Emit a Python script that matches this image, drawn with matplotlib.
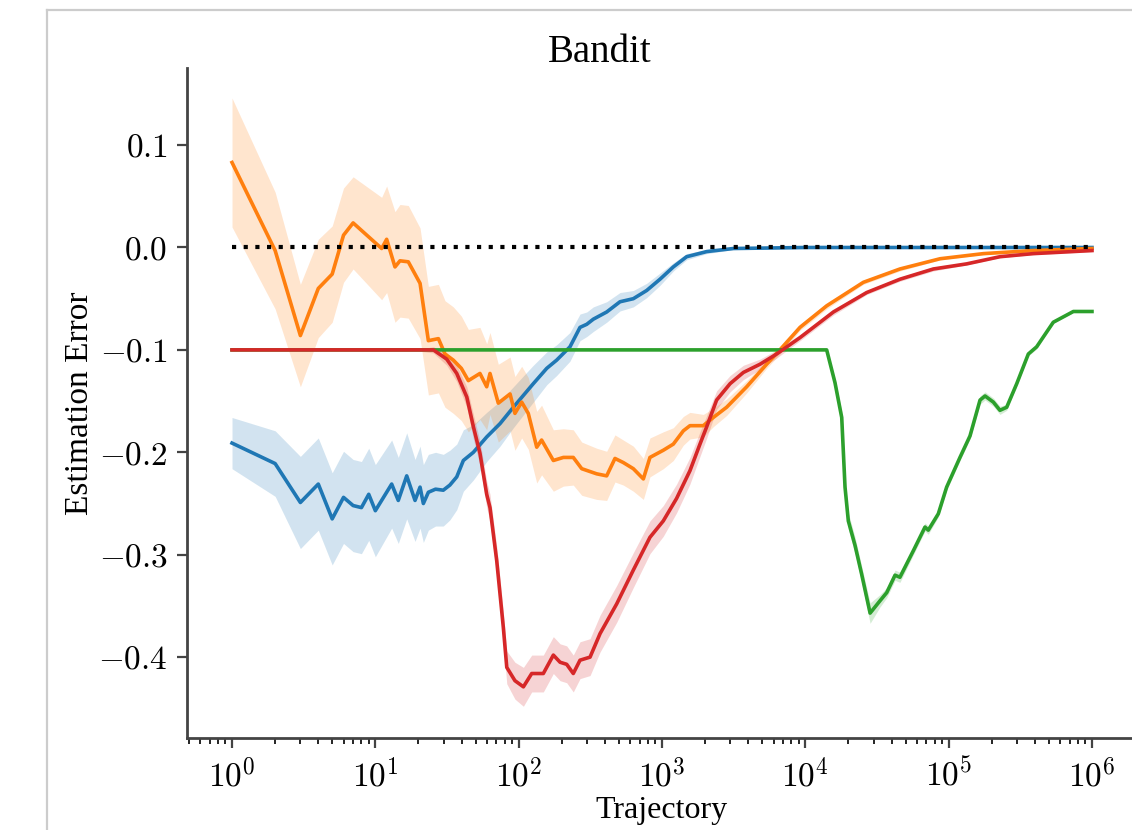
import numpy as np
import matplotlib
matplotlib.use("Agg")
import matplotlib.pyplot as plt
from matplotlib.ticker import FuncFormatter, FixedLocator, LogLocator
from matplotlib.lines import Line2D

plt.rcParams['mathtext.fontset'] = 'cm'
plt.rcParams['font.family'] = ['Liberation Serif', 'DejaVu Serif']

# log10(trajectory), mean estimation error, half width of the shaded band
blue_logx = [0.000, 0.301, 0.477, 0.602, 0.699, 0.778, 0.845, 0.903, 0.954, 1.000,
             1.114, 1.160, 1.219, 1.277, 1.312, 1.335, 1.370, 1.420, 1.474, 1.520,
             1.568, 1.614, 1.684, 1.777, 1.870, 1.963, 2.102, 2.196, 2.265, 2.358,
             2.428, 2.475, 2.521, 2.614, 2.707, 2.800, 2.893, 2.986, 3.079, 3.172,
             3.312, 3.498, 4.000, 5.000, 6.000]
blue_val = [-0.191, -0.211, -0.249, -0.231, -0.265, -0.244, -0.252, -0.254, -0.241, -0.257,
            -0.231, -0.247, -0.223, -0.247, -0.234, -0.250, -0.239, -0.236, -0.237, -0.232,
            -0.224, -0.208, -0.200, -0.185, -0.172, -0.156, -0.133, -0.118, -0.110, -0.097,
            -0.078, -0.075, -0.070, -0.063, -0.053, -0.050, -0.042, -0.031, -0.019, -0.009,
            -0.004, -0.001, 0.000, 0.000, 0.000]
blue_err = [0.025, 0.032, 0.045, 0.045, 0.045, 0.045, 0.045, 0.045, 0.045, 0.045,
            0.043, 0.042, 0.042, 0.040, 0.040, 0.038, 0.037, 0.036, 0.035, 0.034,
            0.032, 0.030, 0.027, 0.024, 0.022, 0.020, 0.018, 0.016, 0.015, 0.014,
            0.013, 0.012, 0.012, 0.010, 0.009, 0.008, 0.007, 0.006, 0.004, 0.003,
            0.002, 0.001, 0.001, 0.000, 0.000]

orange_logx = [0.000, 0.301, 0.477, 0.602, 0.699, 0.778, 0.845, 1.044, 1.079, 1.137,
               1.172, 1.230, 1.312, 1.370, 1.440, 1.486, 1.544, 1.600, 1.649, 1.730,
               1.777, 1.800, 1.858, 1.940, 1.974, 2.021, 2.067, 2.126, 2.160, 2.242,
               2.312, 2.381, 2.440, 2.544, 2.614, 2.672, 2.730, 2.800, 2.870, 2.916,
               3.009, 3.079, 3.149, 3.195, 3.288, 3.358, 3.451, 3.591, 3.730, 3.823,
               3.963, 4.149, 4.405, 4.660, 4.940, 5.242, 5.590, 6.000]
orange_val = [0.083, -0.003, -0.086, -0.040, -0.026, 0.012, 0.024, -0.001, 0.008, -0.019,
              -0.013, -0.014, -0.035, -0.091, -0.089, -0.104, -0.110, -0.118, -0.130, -0.123,
              -0.136, -0.123, -0.152, -0.143, -0.162, -0.151, -0.162, -0.195, -0.188, -0.208,
              -0.205, -0.205, -0.216, -0.221, -0.223, -0.206, -0.210, -0.216, -0.226, -0.205,
              -0.198, -0.192, -0.179, -0.174, -0.174, -0.166, -0.156, -0.136, -0.114, -0.100,
              -0.078, -0.057, -0.034, -0.021, -0.011, -0.006, -0.003, -0.001]
orange_err = [0.063, 0.057, 0.050, 0.048, 0.047, 0.046, 0.045, 0.050, 0.052, 0.054,
              0.055, 0.055, 0.054, 0.053, 0.053, 0.052, 0.052, 0.051, 0.050, 0.045,
              0.042, 0.040, 0.038, 0.036, 0.036, 0.035, 0.035, 0.035, 0.034, 0.030,
              0.028, 0.027, 0.026, 0.025, 0.024, 0.023, 0.022, 0.022, 0.020, 0.019,
              0.018, 0.016, 0.014, 0.013, 0.011, 0.009, 0.008, 0.006, 0.004, 0.004,
              0.003, 0.003, 0.002, 0.002, 0.001, 0.001, 0.001, 0.001]

green_logx = [0.000, 4.149, 4.207, 4.254, 4.277, 4.300, 4.347, 4.393, 4.452, 4.521,
              4.568, 4.626, 4.660, 4.754, 4.835, 4.858, 4.928, 4.986, 5.079, 5.149,
              5.219, 5.254, 5.312, 5.358, 5.405, 5.475, 5.556, 5.614, 5.730, 5.870,
              6.000]
green_val = [-0.100, -0.100, -0.132, -0.166, -0.234, -0.267, -0.291, -0.319, -0.357, -0.345,
             -0.337, -0.320, -0.322, -0.296, -0.273, -0.276, -0.260, -0.234, -0.205, -0.184,
             -0.149, -0.145, -0.151, -0.159, -0.156, -0.133, -0.104, -0.097, -0.073, -0.0625,
             -0.0625]
green_err = [0.000, 0.000, 0.004, 0.006, 0.008, 0.008, 0.008, 0.008, 0.010, 0.006,
             0.005, 0.005, 0.005, 0.004, 0.004, 0.004, 0.003, 0.003, 0.003, 0.003,
             0.004, 0.004, 0.004, 0.004, 0.003, 0.002, 0.002, 0.002, 0.001, 0.001,
             0.001]

red_logx = [0.000, 1.300, 1.405, 1.498, 1.568, 1.638, 1.684, 1.730, 1.777, 1.800,
            1.847, 1.893, 1.917, 1.974, 2.033, 2.091, 2.172, 2.242, 2.289, 2.335,
            2.381, 2.428, 2.498, 2.568, 2.684, 2.800, 2.916, 3.009, 3.102, 3.195,
            3.265, 3.312, 3.381, 3.475, 3.568, 3.684, 3.800, 3.963, 4.196, 4.428,
            4.660, 4.893, 5.126, 5.358, 5.590, 6.000]
red_val = [-0.100, -0.100, -0.100, -0.109, -0.123, -0.146, -0.175, -0.201, -0.241, -0.254,
           -0.306, -0.371, -0.410, -0.423, -0.429, -0.416, -0.416, -0.398, -0.405, -0.407,
           -0.416, -0.403, -0.400, -0.377, -0.348, -0.315, -0.283, -0.267, -0.245, -0.218,
           -0.192, -0.175, -0.149, -0.133, -0.122, -0.114, -0.104, -0.088, -0.063, -0.044,
           -0.031, -0.021, -0.016, -0.009, -0.006, -0.003]
red_err = [0.000, 0.001, 0.003, 0.006, 0.008, 0.010, 0.012, 0.012, 0.013, 0.013,
           0.014, 0.015, 0.016, 0.018, 0.019, 0.018, 0.018, 0.018, 0.018, 0.018,
           0.018, 0.018, 0.018, 0.018, 0.018, 0.017, 0.016, 0.015, 0.014, 0.013,
           0.012, 0.011, 0.009, 0.008, 0.007, 0.005, 0.004, 0.003, 0.003, 0.002,
           0.002, 0.002, 0.001, 0.001, 0.001, 0.001]

series = [
    (blue_logx, blue_val, blue_err, 'tab:blue'),
    (orange_logx, orange_val, orange_err, 'tab:orange'),
    (green_logx, green_val, green_err, 'tab:green'),
    (red_logx, red_val, red_err, 'tab:red'),
]

fig = plt.figure(figsize=(5.66, 4.15), dpi=200)
ax = fig.add_axes([0.1652, 0.1108, 0.8392, 0.8072])

for lx, v, e, c in series:
    x = 10 ** np.array(lx)
    v = np.array(v)
    e = np.array(e)
    ax.fill_between(x, v - e, v + e, color=c, alpha=0.2, lw=0)
    ax.plot(x, v, color=c, lw=1.3)

ax.plot([1, 1e6], [0, 0], color='black', lw=1.5, linestyle=(0, (1, 1.8)), zorder=5)

ax.set_xscale('log')
ax.set_xlim(10 ** -0.314, 10 ** 6.314)
ax.set_ylim(-0.479, 0.1752)

ax.xaxis.set_major_locator(FixedLocator([10.0 ** k for k in range(0, 7)]))
ax.xaxis.set_minor_locator(LogLocator(base=10, subs=np.arange(2, 10)))
ax.xaxis.set_major_formatter(FuncFormatter(lambda v, p: r'$10^{%d}$' % round(np.log10(v))))
ax.set_yticks([0.1, 0.0, -0.1, -0.2, -0.3, -0.4])
ax.yaxis.set_major_formatter(FuncFormatter(lambda v, p: r'$%.1f$' % v))
ax.tick_params(labelsize=12, color='#444444')
ax.tick_params(axis='x', which='major', pad=4)

for s in ['top', 'right']:
    ax.spines[s].set_visible(False)
for s in ['left', 'bottom']:
    ax.spines[s].set_color('#444444')
    ax.spines[s].set_linewidth(1.0)

fig.text(0.530, 0.925, 'Bandit', ha='center', va='baseline', fontsize=14)
fig.text(0.584, 0.014, 'Trajectory', ha='center', va='baseline', fontsize=11.5)
fig.text(0.0707, 0.5145, 'Estimation Error', ha='center', va='center', rotation=90, fontsize=12)

# grey frame from the notebook cell
fig.add_artist(Line2D([47 / 1132, 47 / 1132], [0, 1 - 10 / 830], color='#cccccc', lw=0.8))
fig.add_artist(Line2D([47 / 1132, 1], [1 - 10 / 830, 1 - 10 / 830], color='#cccccc', lw=0.8))

fig.savefig('out.png', dpi=200)
